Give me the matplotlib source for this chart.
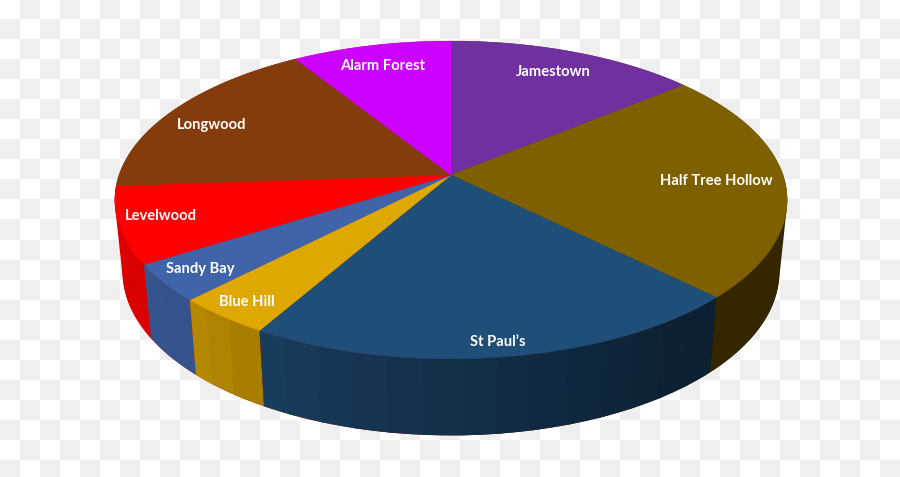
import numpy as np
import matplotlib
matplotlib.use("Agg")
import matplotlib.pyplot as plt
from matplotlib.patches import Polygon

names = ["Jamestown", "Half Tree Hollow", "St Paul’s", "Blue Hill", "Sandy Bay", "Levelwood", "Longwood", "Alarm Forest"]
shares = [14.0, 23.4, 20.9, 4.0, 3.8, 7.8, 17.2, 8.9]
colors = ["#7030a0", "#7f6000", "#1f4e79", "#dfa800", "#3f64a9", "#ff0000", "#843c0c", "#cc00ff"]
label_xy = [(553, 71.5), (716, 180.5), (498, 341.5), (247, 301.5), (200, 268.5), (161, 215.5), (212, 124.5), (383, 65.5)]
wall_bands = [1, 1, 14, 3, 2, 1, 1, 1]

CX, CY, A, B, K = 451.0, 175.0, 332.0, 155.0, 0.157
BOT_CY, BOT_SX, BOT_SY = 246.0, 0.977, 1.03

def top(theta):
    u, v = np.sin(theta), np.cos(theta)
    d = 1 + K * v
    return CX + A * u / d, CY - B * v / d

def bottom(theta):
    x, y = top(theta)
    return CX + BOT_SX * (x - CX), BOT_CY + BOT_SY * (y - CY)

def shade(deg):
    return np.interp(deg, [90, 134.5, 140, 180, 210, 212, 222, 224, 238, 270],
                     [0.40, 0.40, 0.41, 0.60, 0.78, 0.75, 0.81, 0.82, 0.85, 0.87])

def hull(points):
    pts = sorted(map(tuple, points))
    def half(seq):
        out = []
        for p in seq:
            while len(out) > 1 and ((out[-1][0] - out[-2][0]) * (p[1] - out[-2][1])
                                    - (out[-1][1] - out[-2][1]) * (p[0] - out[-2][0])) <= 0:
                out.pop()
            out.append(p)
        return out[:-1]
    return np.array(half(pts) + half(pts[::-1]))

fig = plt.figure(figsize=(9.0, 4.7701), dpi=100)
ax = fig.add_axes([0, 0, 1, 1])
ax.set_xlim(0, 900)
ax.set_ylim(477, 0)
ax.axis("off")

checker = np.fromfunction(lambda j, i: ((i // 20 + j // 20) % 2), (477, 900), dtype=int)
ax.imshow(checker, cmap=matplotlib.colors.ListedColormap(["#ffffff", "#efefef"]),
          extent=(0, 900, 477, 0), aspect="auto", interpolation="nearest", zorder=0)

edges = np.concatenate([[0], np.cumsum(shares)]) / sum(shares) * 2 * np.pi

# silhouette of the whole drum, split left and right, fills the tangent corners
circle = np.linspace(0, 2 * np.pi, 720, endpoint=False)
outline = hull(np.vstack([np.column_stack(top(circle)), np.column_stack(bottom(circle))]))
for idx, clip_x in ((1, (CX, 900)), (5, (0, CX))):
    col = np.array(matplotlib.colors.to_rgb(colors[idx])) * (0.40 if idx == 1 else 0.87)
    p = Polygon(outline, closed=True, facecolor=col, edgecolor="none", zorder=1)
    ax.add_patch(p)
    box = plt.Rectangle((clip_x[0], 0), clip_x[1] - clip_x[0], 477, transform=ax.transData)
    p.set_clip_path(box)

wall_order = sorted(range(len(shares)), key=lambda i: -abs(np.degrees((edges[i] + edges[i + 1]) / 2) - 180))
for i in wall_order:
    a0, a1 = edges[i], edges[i + 1]
    lo, hi = max(a0, np.radians(88)), min(a1, np.radians(272))
    if hi <= lo or i == 6:
        continue
    cuts = np.linspace(lo, hi, wall_bands[i] + 1)
    rgb = np.array(matplotlib.colors.to_rgb(colors[i]))
    for s, e in zip(cuts[:-1], cuts[1:]):
        t = np.linspace(s, min(e + np.radians(1.0), hi), 24)
        xt, yt = top(t)
        xb, yb = bottom(t)
        pts = np.column_stack([np.r_[xt, xb[::-1]], np.r_[yt, yb[::-1]]])
        col = rgb * shade(np.degrees((s + e) / 2))
        ax.add_patch(Polygon(pts, closed=True, facecolor=col, edgecolor="none", zorder=2 + (272 - np.degrees(s)) * 0.001))

for i in range(len(shares)):
    t = np.linspace(edges[i], edges[i + 1], 120)
    x, y = top(t)
    pts = np.column_stack([np.r_[CX, x], np.r_[CY, y]])
    ax.add_patch(Polygon(pts, closed=True, facecolor=colors[i], edgecolor=colors[i], lw=0.3, zorder=3))

for name, (x, y) in zip(names, label_xy):
    ax.text(x, y, name, color="white", fontsize=10.6, fontweight="bold", family="Lato",
            ha="center", va="center", zorder=4)

fig.savefig("out.png", dpi=100)
